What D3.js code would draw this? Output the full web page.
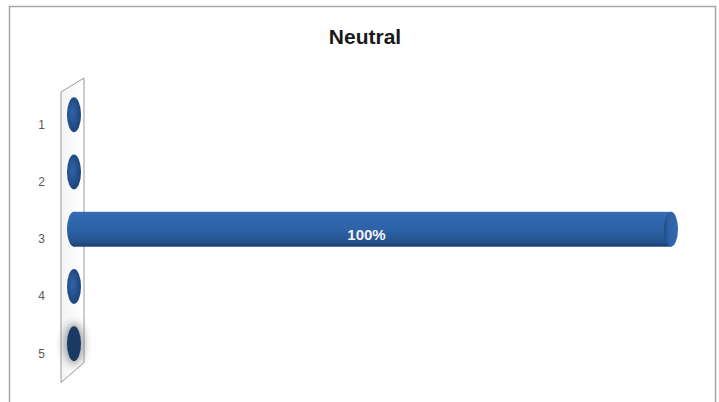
<!DOCTYPE html>
<html>
<head>
<meta charset="utf-8">
<script src="https://cdn.jsdelivr.net/npm/d3@7"></script>
<style>
  html, body { margin: 0; padding: 0; background: #fff; }
  svg { display: block; }
</style>
</head>
<body>
<div id="chart"></div>
<script>
const title = 'Neutral';
const categories = ['1', '2', '3', '4', '5'];
const values = [0, 0, 100, 0, 0];
const valueLabels = ['', '', '100%', '', ''];

const width = 719;
const height = 402;

const svg = d3.select('#chart').append('svg')
  .attr('width', width)
  .attr('height', height)
  .attr('viewBox', [0, 0, width, height]);

const defs = svg.append('defs');

const barGrad = defs.append('linearGradient')
  .attr('id', 'barGrad')
  .attr('x1', 0).attr('y1', 0).attr('x2', 0).attr('y2', 1);
barGrad.selectAll('stop')
  .data([
    [0, '#3a6db0'], [0.12, '#3068b0'], [0.5, '#2c62a8'],
    [0.85, '#24548f'], [1, '#1c3f6e']
  ])
  .enter().append('stop')
    .attr('offset', d => d[0])
    .attr('stop-color', d => d[1]);

const capGrad = defs.append('linearGradient')
  .attr('id', 'capGrad')
  .attr('x1', 0).attr('y1', 0).attr('x2', 1).attr('y2', 0);
capGrad.selectAll('stop')
  .data([[0, '#1f4a82'], [0.35, '#2d62a8'], [1, '#3569ad']])
  .enter().append('stop')
    .attr('offset', d => d[0])
    .attr('stop-color', d => d[1]);

const dotGrad = defs.append('radialGradient')
  .attr('id', 'dotGrad')
  .attr('cx', 0.4).attr('cy', 0.45).attr('r', 0.6);
dotGrad.selectAll('stop')
  .data([[0, '#2f64a8'], [1, '#1c4378']])
  .enter().append('stop')
    .attr('offset', d => d[0])
    .attr('stop-color', d => d[1]);

const wallGrad = defs.append('linearGradient')
  .attr('id', 'wallGrad')
  .attr('x1', 0).attr('y1', 0).attr('x2', 1).attr('y2', 0);
wallGrad.selectAll('stop')
  .data([[0, '#f4f4f4'], [1, '#ffffff']])
  .enter().append('stop')
    .attr('offset', d => d[0])
    .attr('stop-color', d => d[1]);

defs.append('filter')
  .attr('id', 'blur')
  .attr('x', -1).attr('y', -1).attr('width', 3).attr('height', 3)
  .append('feGaussianBlur').attr('stdDeviation', 4);

// chart frame
svg.append('rect')
  .attr('x', 9.5).attr('y', 6.5)
  .attr('width', 706).attr('height', 410)
  .attr('fill', '#fff')
  .attr('stroke', '#a6a6a6')
  .attr('stroke-width', 1.5);

svg.append('text')
  .attr('x', 365).attr('y', 44)
  .attr('text-anchor', 'middle')
  .attr('font-family', 'Liberation Sans, Arial, sans-serif')
  .attr('font-weight', 'bold')
  .attr('font-size', 21)
  .attr('fill', '#1a1a1a')
  .text(title);

const x = d3.scaleLinear().domain([0, 100]).range([74, 671]);
const y = d3.scaleBand().domain(categories).range([75, 383.5]).padding(0.39);
const depthY = 10; // 3D offset of labels vs bars

// side wall of the 3D chart
const [y0, y1] = y.range();
const wx0 = x(0) - 13;
const wx1 = wx0 + 23;
svg.append('path')
  .attr('d', `M${wx0},${y0 + 17}L${wx1},${y0 + 3}L${wx1},${y1 - 21}L${wx0},${y1 - 1}Z`)
  .attr('fill', 'url(#wallGrad)')
  .attr('stroke', '#9a9a9a')
  .attr('stroke-width', 1);

// category axis
const axis = svg.append('g')
  .attr('transform', `translate(${wx0 - 6},${depthY})`)
  .call(d3.axisLeft(y).tickSize(0).tickPadding(10))
  .attr('font-family', 'Liberation Sans, Arial, sans-serif')
  .attr('font-size', 12);
axis.select('.domain').remove();
axis.selectAll('text').attr('fill', '#595959');

const data = categories.map((c, i) => ({ cat: c, value: values[i], label: valueLabels[i] }));
const cy = d => y(d.cat) + y.bandwidth() / 2;
const ry = y.bandwidth() / 2;
const rx = 7;

// shadow behind last marker
svg.append('g')
  .selectAll('ellipse')
  .data(data.slice(-1))
  .enter().append('ellipse')
    .attr('cx', d => x(0))
    .attr('cy', cy)
    .attr('rx', rx + 3)
    .attr('ry', ry + 3)
    .attr('fill', '#777')
    .attr('opacity', 0.7)
    .attr('filter', 'url(#blur)');

const bars = svg.append('g')
  .selectAll('g')
  .data(data)
  .enter().append('g');

// zero-length bars: just the cylinder end
bars.filter(d => d.value === 0).append('ellipse')
  .attr('cx', d => x(d.value))
  .attr('cy', cy)
  .attr('rx', rx)
  .attr('ry', ry)
  .attr('fill', d => d.cat === '5' ? '#1a3a66' : 'url(#dotGrad)');

const full = bars.filter(d => d.value > 0);
full.append('ellipse')
  .attr('cx', x(0))
  .attr('cy', cy)
  .attr('rx', rx)
  .attr('ry', ry)
  .attr('fill', 'url(#barGrad)');
full.append('rect')
  .attr('x', x(0))
  .attr('y', d => y(d.cat))
  .attr('width', d => x(d.value) - x(0))
  .attr('height', y.bandwidth())
  .attr('fill', 'url(#barGrad)');
full.append('ellipse')
  .attr('cx', d => x(d.value))
  .attr('cy', cy)
  .attr('rx', rx)
  .attr('ry', ry)
  .attr('fill', 'url(#capGrad)');
full.append('text')
  .attr('x', d => (x(0) + x(d.value)) / 2 - 6)
  .attr('y', d => cy(d) + 11)
  .attr('text-anchor', 'middle')
  .attr('font-family', 'Liberation Sans, Arial, sans-serif')
  .attr('font-weight', 'bold')
  .attr('font-size', 15)
  .attr('fill', '#f2f2f2')
  .text(d => d.label);
</script>
</body>
</html>
